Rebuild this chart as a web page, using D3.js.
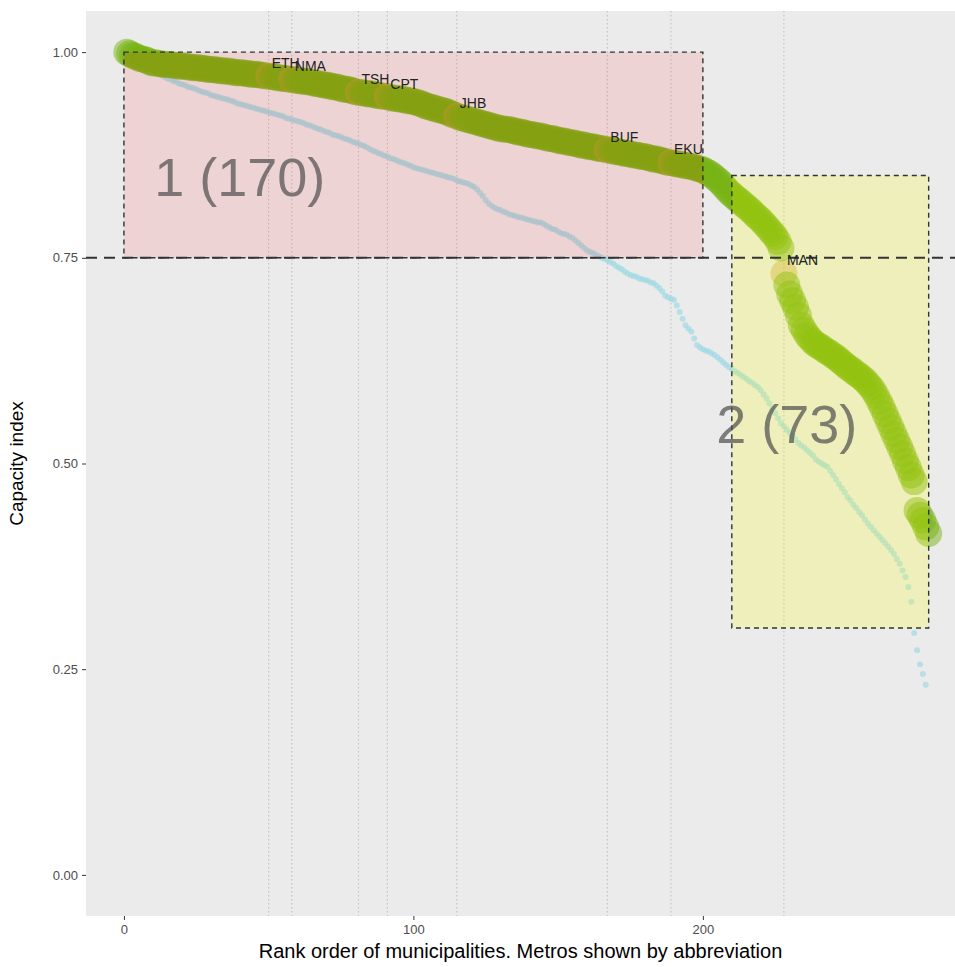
<!DOCTYPE html>
<meta charset="utf-8">
<script src="https://d3js.org/d3.v7.min.js"></script>
<style>
  body { margin: 0; background: #fff; }
  text { font-family: "Liberation Sans", Arial, sans-serif; }
</style>
<div id="chart"></div>
<script>
// capacity index of each municipality, in rank order (rank = position + 1)
const capacityIndex = [
  1.000, 0.998, 0.996, 0.995, 0.993, 0.992, 0.991, 0.990, 0.988, 0.987,
  0.987, 0.986, 0.986, 0.985, 0.985, 0.985, 0.984, 0.984, 0.983, 0.983,
  0.983, 0.982, 0.982, 0.981, 0.981, 0.981, 0.980, 0.980, 0.979, 0.979,
  0.979, 0.978, 0.978, 0.977, 0.977, 0.977, 0.976, 0.976, 0.975, 0.975,
  0.975, 0.974, 0.974, 0.973, 0.973, 0.973, 0.972, 0.972, 0.971, 0.971,
  0.970, 0.970, 0.969, 0.969, 0.968, 0.968, 0.967, 0.967, 0.966, 0.966,
  0.965, 0.965, 0.964, 0.964, 0.963, 0.962, 0.962, 0.961, 0.960, 0.960,
  0.959, 0.958, 0.958, 0.957, 0.956, 0.955, 0.955, 0.954, 0.953, 0.952,
  0.951, 0.951, 0.950, 0.950, 0.949, 0.949, 0.948, 0.947, 0.947, 0.946,
  0.946, 0.945, 0.944, 0.944, 0.943, 0.943, 0.942, 0.941, 0.941, 0.940,
  0.939, 0.938, 0.937, 0.935, 0.934, 0.933, 0.932, 0.931, 0.930, 0.929,
  0.928, 0.927, 0.925, 0.924, 0.922, 0.921, 0.920, 0.919, 0.918, 0.917,
  0.916, 0.915, 0.914, 0.913, 0.912, 0.911, 0.910, 0.909, 0.908, 0.907,
  0.907, 0.906, 0.906, 0.905, 0.904, 0.903, 0.903, 0.902, 0.901, 0.900,
  0.900, 0.899, 0.898, 0.898, 0.897, 0.896, 0.895, 0.895, 0.894, 0.893,
  0.892, 0.892, 0.891, 0.890, 0.890, 0.889, 0.888, 0.887, 0.887, 0.886,
  0.885, 0.885, 0.884, 0.883, 0.883, 0.882, 0.881, 0.881, 0.880, 0.879,
  0.879, 0.878, 0.877, 0.877, 0.876, 0.875, 0.875, 0.874, 0.873, 0.873,
  0.872, 0.871, 0.870, 0.870, 0.869, 0.868, 0.867, 0.866, 0.866, 0.865,
  0.864, 0.864, 0.863, 0.862, 0.862, 0.861, 0.860, 0.859, 0.858, 0.857,
  0.855, 0.853, 0.851, 0.848, 0.845, 0.842, 0.838, 0.834, 0.830, 0.827,
  0.824, 0.821, 0.818, 0.815, 0.812, 0.809, 0.806, 0.802, 0.799, 0.796,
  0.792, 0.788, 0.784, 0.780, 0.776, 0.770, 0.762, 0.731, 0.717, 0.706,
  0.698, 0.690, 0.680, 0.668, 0.662, 0.656, 0.652, 0.648, 0.645, 0.643,
  0.641, 0.638, 0.636, 0.634, 0.631, 0.629, 0.626, 0.623, 0.620, 0.617,
  0.615, 0.612, 0.609, 0.607, 0.604, 0.601, 0.597, 0.593, 0.588, 0.582,
  0.575, 0.568, 0.560, 0.552, 0.544, 0.536, 0.528, 0.520, 0.512, 0.503,
  0.495, 0.486, 0.478, 0.443, 0.437, 0.431, 0.423, 0.415
];

// second (light blue) index, also in its own rank order
const comparisonIndex = [
  1.000, 0.997, 0.995, 0.992, 0.990, 0.988, 0.985, 0.983, 0.980, 0.978,
  0.976, 0.974, 0.972, 0.970, 0.968, 0.967, 0.965, 0.964, 0.962, 0.961,
  0.960, 0.958, 0.957, 0.956, 0.955, 0.953, 0.952, 0.951, 0.950, 0.948,
  0.947, 0.946, 0.945, 0.944, 0.943, 0.942, 0.941, 0.940, 0.938, 0.937,
  0.936, 0.935, 0.934, 0.933, 0.932, 0.931, 0.930, 0.929, 0.928, 0.927,
  0.926, 0.925, 0.924, 0.923, 0.922, 0.920, 0.919, 0.918, 0.917, 0.916,
  0.915, 0.914, 0.912, 0.911, 0.910, 0.908, 0.907, 0.906, 0.904, 0.903,
  0.902, 0.900, 0.899, 0.898, 0.897, 0.895, 0.894, 0.893, 0.891, 0.890,
  0.889, 0.887, 0.886, 0.884, 0.882, 0.880, 0.879, 0.877, 0.876, 0.874,
  0.873, 0.871, 0.870, 0.869, 0.867, 0.866, 0.865, 0.863, 0.862, 0.860,
  0.859, 0.858, 0.857, 0.856, 0.855, 0.854, 0.853, 0.852, 0.851, 0.850,
  0.849, 0.848, 0.847, 0.846, 0.844, 0.843, 0.842, 0.841, 0.840, 0.838,
  0.836, 0.833, 0.829, 0.825, 0.820, 0.816, 0.813, 0.811, 0.809, 0.808,
  0.806, 0.805, 0.803, 0.802, 0.801, 0.800, 0.799, 0.798, 0.797, 0.796,
  0.795, 0.794, 0.793, 0.793, 0.791, 0.789, 0.787, 0.785, 0.784, 0.782,
  0.780, 0.779, 0.778, 0.776, 0.774, 0.771, 0.768, 0.765, 0.762, 0.759,
  0.757, 0.756, 0.754, 0.752, 0.750, 0.749, 0.747, 0.745, 0.743, 0.740,
  0.738, 0.736, 0.733, 0.731, 0.729, 0.728, 0.727, 0.725, 0.724, 0.723,
  0.722, 0.720, 0.719, 0.716, 0.713, 0.709, 0.704, 0.702, 0.700, 0.699,
  0.692, 0.684, 0.676, 0.668, 0.664, 0.660, 0.652, 0.644, 0.641, 0.639,
  0.637, 0.636, 0.634, 0.632, 0.629, 0.626, 0.623, 0.620, 0.617, 0.615,
  0.612, 0.610, 0.608, 0.605, 0.603, 0.600, 0.598, 0.595, 0.593, 0.589,
  0.584, 0.579, 0.573, 0.567, 0.561, 0.555, 0.549, 0.545, 0.541, 0.537,
  0.533, 0.529, 0.525, 0.522, 0.519, 0.516, 0.513, 0.510, 0.505, 0.502,
  0.500, 0.498, 0.496, 0.491, 0.486, 0.481, 0.475, 0.470, 0.465, 0.459,
  0.455, 0.450, 0.446, 0.441, 0.437, 0.432, 0.427, 0.423, 0.419, 0.415,
  0.411, 0.407, 0.403, 0.399, 0.395, 0.390, 0.384, 0.378, 0.370, 0.362,
  0.350, 0.332, 0.294, 0.273, 0.256, 0.244, 0.231
];

// metros and their rank
const metroNames = ["ETH", "NMA", "TSH", "CPT", "JHB", "BUF", "EKU", "MAN"];
const metroRanks = [50, 58, 81, 91, 115, 167, 189, 228];

// the two groups (boxes)
const groupLabels = ["1 (170)", "2 (73)"];
const groupRankFrom = [0, 210];
const groupRankTo = [200, 278];
const groupLow = [0.75, 0.30];
const groupHigh = [1.00, 0.85];
const groupFill = ["red", "yellow"];
const groupAlpha = [0.1, 0.2];
const groupLabelRank = [40, 229];
const groupLabelValue = [0.848, 0.548];

const threshold = 0.75;
const xTicks = [0, 100, 200];
const yTicks = [0, 0.25, 0.5, 0.75, 1];

const width = 955, height = 967;
const panel = {left: 86, top: 11, right: 955, bottom: 916};

const x = d3.scaleLinear().domain([-13.1, 287.1]).range([panel.left, panel.right]);
const y = d3.scaleLinear().domain([-0.05, 1.05]).range([panel.bottom, panel.top]);

const svg = d3.select("#chart")
  .append("svg")
    .attr("width", width)
    .attr("height", height);

svg.append("defs").append("clipPath")
    .attr("id", "panel-clip")
  .append("rect")
    .attr("x", panel.left).attr("y", panel.top)
    .attr("width", panel.right - panel.left)
    .attr("height", panel.bottom - panel.top);

// panel background
svg.append("rect")
  .attr("x", panel.left).attr("y", panel.top)
  .attr("width", panel.right - panel.left)
  .attr("height", panel.bottom - panel.top)
  .attr("fill", "#ebebeb");

const plot = svg.append("g").attr("clip-path", "url(#panel-clip)");

// dotted lines at the metros
plot.selectAll(".metro-line")
  .data(metroRanks)
  .join("line")
    .attr("class", "metro-line")
    .attr("x1", d => x(d)).attr("x2", d => x(d))
    .attr("y1", panel.top).attr("y2", panel.bottom)
    .attr("stroke", "#bdbdbd")
    .attr("stroke-width", 1)
    .attr("stroke-dasharray", "1.5,2.5");

// light blue points
plot.selectAll(".alt")
  .data(comparisonIndex)
  .join("circle")
    .attr("class", "alt")
    .attr("cx", (d, i) => x(i + 1))
    .attr("cy", d => y(d))
    .attr("r", 3)
    .attr("fill", "#9dd8e3")
    .attr("opacity", 0.65);

// capacity points, metros tinted orange
plot.selectAll(".cap")
  .data(capacityIndex)
  .join("circle")
    .attr("class", "cap")
    .attr("cx", (d, i) => x(i + 1))
    .attr("cy", d => y(d))
    .attr("r", 13.5)
    .attr("fill", (d, i) => metroRanks.includes(i + 1) ? "#c9a238" : "#78b414")
    .attr("opacity", (d, i) => metroRanks.includes(i + 1) ? 0.4 : 0.5);

// group boxes drawn over the points
plot.selectAll(".box")
  .data(groupLabels)
  .join("rect")
    .attr("class", "box")
    .attr("x", (d, i) => x(groupRankFrom[i]))
    .attr("y", (d, i) => y(groupHigh[i]))
    .attr("width", (d, i) => x(groupRankTo[i]) - x(groupRankFrom[i]))
    .attr("height", (d, i) => y(groupLow[i]) - y(groupHigh[i]))
    .attr("fill", (d, i) => groupFill[i])
    .attr("fill-opacity", (d, i) => groupAlpha[i])
    .attr("stroke", "#333")
    .attr("stroke-width", 1.4)
    .attr("stroke-dasharray", "5,4");

// threshold line
plot.append("line")
  .attr("x1", panel.left).attr("x2", panel.right)
  .attr("y1", y(threshold)).attr("y2", y(threshold))
  .attr("stroke", "#333")
  .attr("stroke-width", 2)
  .attr("stroke-dasharray", "11,7");

// metro labels
plot.selectAll(".metro-label")
  .data(metroNames)
  .join("text")
    .attr("class", "metro-label")
    .attr("x", (d, i) => x(metroRanks[i]) + 3)
    .attr("y", (d, i) => y(capacityIndex[metroRanks[i] - 1]) - 8)
    .attr("font-size", 14)
    .attr("fill", "#222")
    .text(d => d);

// group labels
plot.selectAll(".group-label")
  .data(groupLabels)
  .join("text")
    .attr("class", "group-label")
    .attr("x", (d, i) => x(groupLabelRank[i]))
    .attr("y", (d, i) => y(groupLabelValue[i]) + 19)
    .attr("text-anchor", "middle")
    .attr("font-size", 54)
    .attr("fill", "#4d4d4d")
    .attr("fill-opacity", 0.7)
    .text(d => d);

// axes
const xAxis = svg.append("g")
  .attr("transform", `translate(0,${panel.bottom})`)
  .call(d3.axisBottom(x).tickValues(xTicks).tickFormat(d3.format("d")).tickSize(4).tickPadding(5));
const yAxis = svg.append("g")
  .attr("transform", `translate(${panel.left},0)`)
  .call(d3.axisLeft(y).tickValues(yTicks).tickFormat(d3.format(".2f")).tickSize(4).tickPadding(4));

[xAxis, yAxis].forEach(a => {
  a.select(".domain").remove();
  a.selectAll(".tick line").attr("stroke", "#333").attr("stroke-width", 1);
  a.selectAll(".tick text")
    .attr("fill", "#4d4d4d")
    .attr("font-size", 13)
    .style("font-family", "Liberation Sans, Arial, sans-serif");
});

svg.append("text")
  .attr("x", (panel.left + panel.right) / 2)
  .attr("y", 958)
  .attr("text-anchor", "middle")
  .attr("font-size", 20)
  .attr("fill", "#000")
  .text("Rank order of municipalities. Metros shown by abbreviation");

svg.append("text")
  .attr("transform", `translate(23,${(panel.top + panel.bottom) / 2}) rotate(-90)`)
  .attr("text-anchor", "middle")
  .attr("font-size", 19)
  .attr("fill", "#000")
  .text("Capacity index");
</script>
